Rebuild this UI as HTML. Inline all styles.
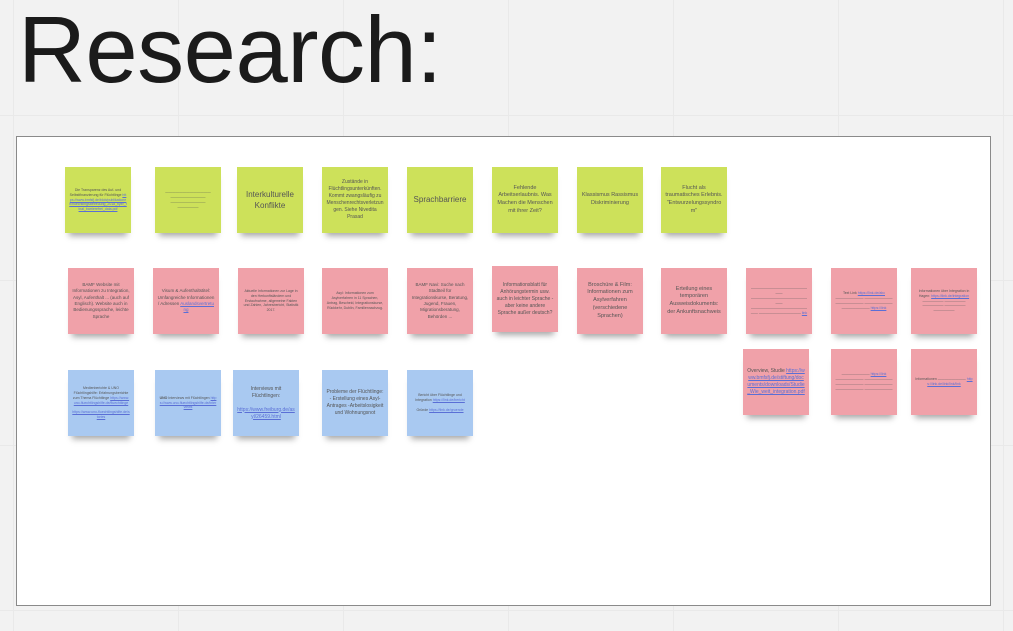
<!DOCTYPE html>
<html><head><meta charset="utf-8"><style>
body{margin:0;width:1013px;height:631px;overflow:hidden;background:#f2f2f2;font-family:"Liberation Sans",sans-serif;position:relative;
background-image:linear-gradient(#e9e9e9 1px,transparent 1px),linear-gradient(90deg,#e9e9e9 1px,transparent 1px);
background-size:165px 165px;background-position:13px 115px;}
h1{position:absolute;left:18px;top:-4px;margin:0;font-weight:normal;font-size:94px;color:#1b1b1b;letter-spacing:-0.5px;}
.frame{position:absolute;left:16px;top:136px;width:973px;height:468px;background:#fff;border:1px solid #8a8a8a;}
.n{position:absolute;width:66px;height:66px;box-shadow:0 7px 6px -4px rgba(0,0,0,.35);display:flex;align-items:center;justify-content:center;text-align:center;color:#555;box-sizing:border-box;padding:3px 4px;line-height:1.4;overflow:hidden}
.n>div{width:100%;word-break:break-word}
.g{background:#cde15a}.p{background:#f0a1a9}.b{background:#a9c9f1}
.t8{font-size:8px}.t4{font-size:3.5px}
.l{color:#5a6fd6;text-decoration:underline;word-break:break-all}
</style></head><body>
<h1>Research:</h1>
<div class="frame"></div>

<div class="n g t4" style="left:65px;top:167px"><div>Die Transparenz des Auf- und Selbstfinanzierung für Flüchtlinge <span class="l">https://www.bmfsfj.de/blob/publikationen/fluechtlingsbetreuung_2018_flyer_final_barrierefrei_data.pdf</span></div></div>
<div class="n g t4" style="left:155px;top:167px"><div>—————————————<br>——————————<br>——————————<br>——————</div></div>
<div class="n g t8" style="left:237px;top:167px"><div>Interkulturelle Konflikte</div></div>
<div class="n g" style="left:322px;top:167px;font-size:5px"><div>Zustände in Flüchtlingsunterkünften. Kommt zwangsläufig zu Menschenrechtsverletzungen. Siehe Nivedita Prasad</div></div>
<div class="n g t8" style="left:407px;top:167px"><div>Sprachbarriere</div></div>
<div class="n g" style="left:492px;top:167px;font-size:5.5px"><div>Fehlende Arbeitserlaubnis. Was Machen die Menschen mit ihrer Zeit?</div></div>
<div class="n g" style="left:577px;top:167px;font-size:5.5px"><div>Klassismus Rassismus Diskriminierung</div></div>
<div class="n g" style="left:661px;top:167px;font-size:5.5px"><div>Flucht als traumatisches Erlebnis. "Entwurzelungssyndrom"</div></div>

<div class="n p" style="left:68px;top:268px;font-size:4.5px"><div>BAMF Website mit Informationen zu Integration, Asyl, Aufenthalt ... (auch auf Englisch). Website auch in Bedienungssprache, leichte Sprache</div></div>
<div class="n p" style="left:153px;top:268px;font-size:4.5px"><div>Visum &amp; Aufenthaltstitel: Umfangreiche Informationen / Adressen <span class="l">Auslandsvertretung</span></div></div>
<div class="n p t4" style="left:238px;top:268px"><div>Aktuelle Informationen zur Lage in den Herkunftsländern und Erstaufnahme, allgemeine Fakten und Zahlen, Jahresbericht, Statistik 2017.</div></div>
<div class="n p t4" style="left:322px;top:268px"><div>Asyl: Informationen zum Asylverfahren in 11 Sprachen, Antrag, Bescheid, Integrationskurse, Rückkehr, Dublin, Familiennachzug.</div></div>
<div class="n p" style="left:407px;top:268px;font-size:4.5px"><div>BAMF Navi: Suche nach Stadtteil für Integrationskurse, Beratung, Jugend, Frauen, Migrationsberatung, Behörden ...</div></div>
<div class="n p" style="left:492px;top:266px;font-size:5px"><div>Informationsblatt für Anhörungstermin usw. auch in leichter Sprache - aber keine andere Sprache außer deutsch?</div></div>
<div class="n p" style="left:577px;top:268px;font-size:5.5px"><div>Broschüre &amp; Film: Informationen zum Asylverfahren (verschiedene Sprachen)</div></div>
<div class="n p" style="left:661px;top:268px;font-size:5.5px"><div>Erteilung eines temporären Ausweisdokuments: der Ankunftsnachweis</div></div>
<div class="n p t4" style="left:746px;top:268px"><div>—————————————————— —————————————————— —————————————————— ———————————— <span class="l">link</span></div></div>
<div class="n p t4" style="left:831px;top:268px"><div>Text Link <span class="l">https://link.de/abc</span> ———————— ———————— ———————— ———————— ———————— <span class="l">https://link</span></div></div>
<div class="n p t4" style="left:911px;top:268px"><div>Informationen über Integration in Hagen: <span class="l">https://link.de/integration</span> —————— —————— —————— —————— ——————</div></div>

<div class="n b t4" style="left:68px;top:370px"><div>Medienberichte &amp; UNO Flüchtlingshilfe: Erfahrungsberichte zum Thema Flüchtlinge <span class="l">https://www.uno-fluechtlingshilfe.de/fluechtlinge</span><br><br><span class="l">https://www.uno-fluechtlingshilfe.de/stories</span></div></div>
<div class="n b t4" style="left:155px;top:370px"><div><b>UNO</b> Interviews mit Flüchtlingen <span class="l">https://www.uno-fluechtlingshilfe.de/interviews</span></div></div>
<div class="n b" style="left:233px;top:370px;font-size:5px"><div>Interviews mit Flüchtlingen:<br><br><span class="l">https://www.freiburg.de/asyl/26459.html</span></div></div>
<div class="n b" style="left:322px;top:370px;font-size:5px"><div>Probleme der Flüchtlinge: - Erstellung eines Asyl-Antrages -Arbeitslosigkeit und Wohnungsnot</div></div>
<div class="n b t4" style="left:407px;top:370px"><div>Bericht über Flüchtlinge und Integration <span class="l">https://link.de/bericht</span><br><br>Gründe <span class="l">https://link.de/gruende</span></div></div>

<div class="n p" style="left:743px;top:349px;font-size:5px"><div>Overview, Studie <span class="l">https://www.bmfsfj.de/stiftung/documents/downloads/Studie_Wie_weit_integration.pdf</span></div></div>
<div class="n p t4" style="left:831px;top:349px"><div>———————— <span class="l">https://link</span> ———————— ———————— ———————— ———————— ———————— ————————</div></div>
<div class="n p t4" style="left:911px;top:349px"><div>Informationen ———————— <span class="l">https://link.de/link/link/link</span></div></div>
</body></html>
